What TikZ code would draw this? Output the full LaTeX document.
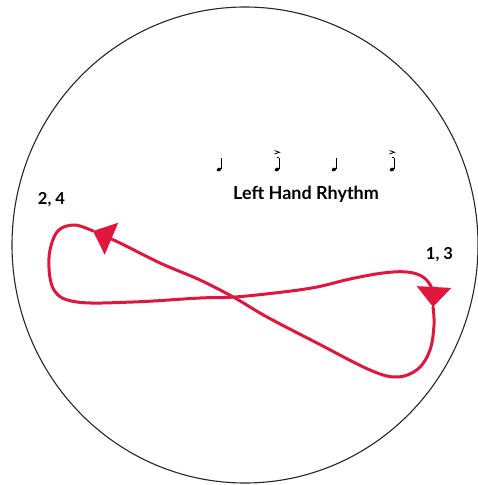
\documentclass[tikz,border=0pt]{standalone}
\usepackage{fontspec}
\setmainfont{Lato}
\usetikzlibrary{arrows.meta}
\definecolor{loopred}{RGB}{225,22,62}

\begin{document}
\begin{tikzpicture}[
    x=1pt,
    y=-1pt,
    loop/.style={draw=loopred, line width=3pt, line cap=round,
        -{Triangle[width=34pt,length=20pt]}},
    beat/.style={font=\bfseries\fontsize{16.5}{16.5}\selectfont}
]
\useasboundingbox (0,0) rectangle (478,485);

% Frame
\draw[line width=1.1pt, black!85] (245,245) ellipse [x radius=233, y radius=238];

% Rhythm notes
\foreach \x/\acc in {219/0, 277/1, 334/0, 392/1} {
    \fill[rotate around={25:(\x,169.5)}] (\x,169.5) ellipse [x radius=2.4, y radius=1.7];
    \draw[line width=0.8pt] (\x+2.1,169) -- (\x+2.1,157.5);
    \ifnum\acc=1
        \draw[line width=0.8pt] (\x-0.3,157.5) -- (\x+2.1,157.5);
        \draw[line width=0.8pt] (\x-2.5,150.5) -- (\x+2.5,152.3) -- (\x-2.5,154);
    \fi
}

% Labels
\node[font=\bfseries\fontsize{18}{18}\selectfont] (title) at (306,194) {Left Hand Rhythm};
\node[beat] (lbl24) at (51.5,199.5) {2, 4};
\node[beat] (lbl13) at (439.5,254.5) {1, 3};

% Figure eight
\draw[loop] plot[smooth, tension=0.6] coordinates {
    (93,231) (74,225) (57,232) (49,258) (54,290) (77,302) (133,302)
    (200,298) (235,297) (283,292) (317,287) (350,279) (383,273)
    (407,272) (423,277) (432,289) (433,307)};
\draw[loop] plot[smooth, tension=0.6] coordinates {
    (433,307) (434,325) (430,350) (418,369) (397,377) (370,370)
    (317,343) (267,317) (235,298) (200,280) (160,263) (120,243) (93,231)};

\end{tikzpicture}
\end{document}
